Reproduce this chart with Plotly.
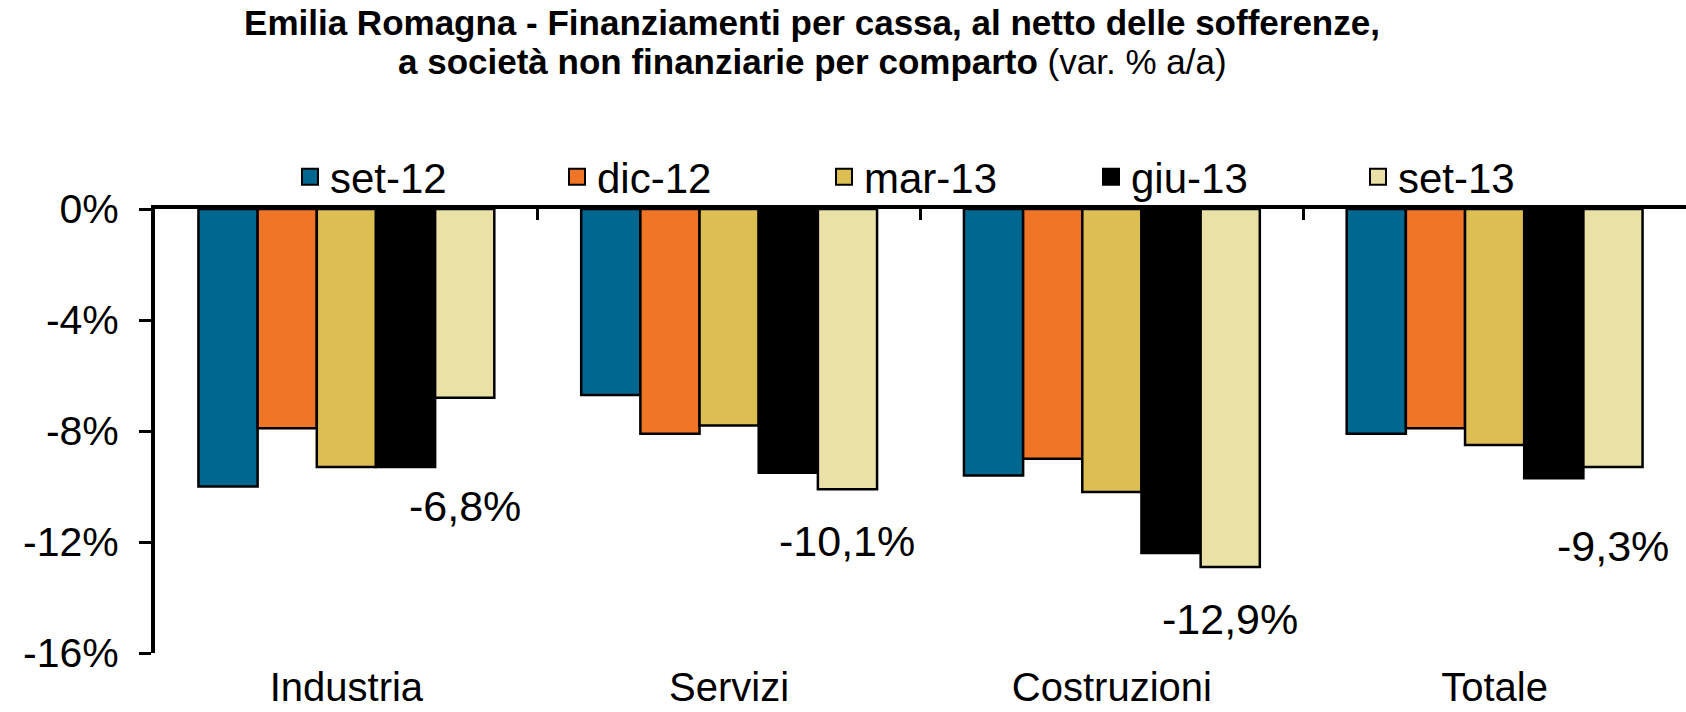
import plotly.graph_objects as go

categories = ["Industria", "Servizi", "Costruzioni", "Totale"]
series_names = ["set-12", "dic-12", "mar-13", "giu-13", "set-13"]
set12 = [-10.0, -6.7, -9.6, -8.1]
dic12 = [-7.9, -8.1, -9.0, -7.9]
mar13 = [-9.3, -7.8, -10.2, -8.5]
giu13 = [-9.3, -9.5, -12.4, -9.7]
set13 = [-6.8, -10.1, -12.9, -9.3]
label_texts = ["-6,8%", "-10,1%", "-12,9%", "-9,3%"]
y_tickvals = [0, -4, -8, -12, -16]
y_ticktext = ["0%", "-4%", "-8%", "-12%", "-16%"]
title_line1 = "Emilia Romagna - Finanziamenti per cassa, al netto delle sofferenze,"
title_line2_bold = "a società non finanziarie per comparto"
title_line2_rest = "(var. % a/a)"

series_values = [set12, dic12, mar13, giu13, set13]
colors = ["#006890", "#F07526", "#DCBE52", "#000000", "#EAE1A7"]
label_yshift = [-108, -52, -52, -79]

FONT = "Liberation Sans, Arial, sans-serif"
W, H = 1686, 712
L, R, T, B = 155, 0, 209, 59
PW, PH = W - L - R, H - T - B
BARGAP = 0.227
n_series = len(series_names)
# centre offset (category units) of the last bar within its group
last_offset = (n_series - 1) / 2 * (1 - BARGAP) / n_series

fig = go.Figure()
for name, vals, col in zip(series_names, series_values, colors):
    fig.add_trace(go.Bar(
        x=categories, y=vals, name=name, showlegend=False,
        marker=dict(color=col, line=dict(color="black", width=2.5)),
        hoverinfo="x+y",
    ))
# legend entries
for name, col in zip(series_names, colors):
    fig.add_trace(go.Scatter(
        x=[None], y=[None], mode="markers", name=name, xaxis="x2",
        marker=dict(symbol="square", size=16, color=col,
                    line=dict(color="black", width=2)),
    ))

# data labels for last series
for i, (cat, v, t) in enumerate(zip(categories, set13, label_texts)):
    fig.add_annotation(
        x=i + last_offset, y=v, xref="x2", yref="y", text=t, showarrow=False,
        yshift=label_yshift[i], font=dict(size=43, color="black", family=FONT),
    )

# second title line
fig.add_annotation(
    x=(812 - L) / PW, xref="paper", y=1 + (T - 62) / PH, yref="paper",
    xanchor="center", yanchor="middle", showarrow=False,
    text="<b>" + title_line2_bold + "</b> " + title_line2_rest,
    font=dict(size=35, color="black", family=FONT),
)

fig.update_layout(
    width=W, height=H,
    margin=dict(l=L, r=R, t=T, b=B, autoexpand=False),
    paper_bgcolor="white", plot_bgcolor="white",
    font=dict(family=FONT, color="black", size=40),
    barmode="group", bargap=BARGAP, bargroupgap=0,
    title=dict(
        text="<b>" + title_line1 + "</b>",
        x=812 / W, xanchor="center", xref="container",
        y=1 - 23 / H, yanchor="middle", yref="container",
        font=dict(size=35, family=FONT, color="black"),
    ),
    legend=dict(
        orientation="h", x=290 / W, xanchor="left", xref="container",
        y=1 - 177 / H, yanchor="middle", yref="container",
        font=dict(size=42, family=FONT, color="black"),
        entrywidth=222, entrywidthmode="pixels",
        bgcolor="rgba(0,0,0,0)",
    ),
    xaxis=dict(
        type="category", showline=False, ticks="", showgrid=False,
        zeroline=False, tickfont=dict(size=40), ticklabelstandoff=7,
        automargin=False,
    ),
    xaxis2=dict(
        overlaying="x", side="top", anchor="y", range=[-0.5, 3.5],
        showline=True, linewidth=4, linecolor="black",
        ticks="inside", tickvals=[-0.5, 0.5, 1.5, 2.5, 3.5], ticklen=11,
        tickwidth=3, tickcolor="black", showticklabels=False,
        showgrid=False, zeroline=False, fixedrange=True, automargin=False,
    ),
    yaxis=dict(
        range=[-16, 0], tickvals=y_tickvals, ticktext=y_ticktext,
        showline=True, linewidth=4, linecolor="black",
        ticks="outside", ticklen=12, tickwidth=3, tickcolor="black",
        showgrid=False, zeroline=False, tickfont=dict(size=41),
        ticklabelstandoff=12, automargin=False,
    ),
)

fig.write_html(
    "out.html",
    config={"displayModeBar": False},
    post_script="document.body.style.margin='0';document.body.style.overflow='hidden';",
)
